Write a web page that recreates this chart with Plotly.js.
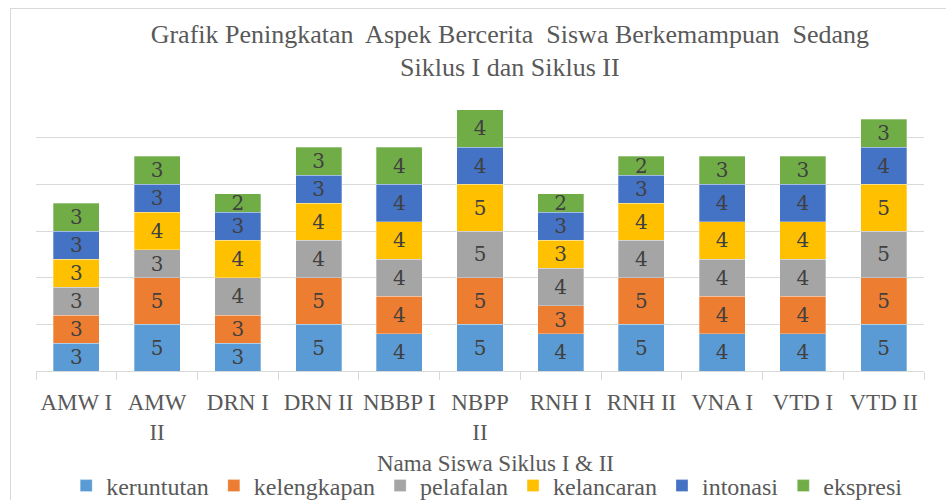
<!DOCTYPE html>
<html>
<head>
<meta charset="utf-8">
<script src="https://cdn.plot.ly/plotly-3.0.1.min.js"></script>
<style>
html,body{margin:0;padding:0;background:#fff;overflow:hidden;}
#frame{position:absolute;left:10px;top:8px;width:1000px;height:600px;border:1px solid #d9d9d9;box-sizing:border-box;}
#chart{position:absolute;left:0;top:0;width:946px;height:500px;}
</style>
</head>
<body>
<div id="frame"></div>
<div id="chart"></div>
<script>
const categories = ["AMW I","AMW<br>II","DRN I","DRN II","NBBP I","NBPP<br>II","RNH I","RNH II","VNA I","VTD I","VTD II"];
const seriesNames = ["keruntutan","kelengkapan","pelafalan","kelancaran","intonasi","ekspresi"];
const keruntutan  = [3,5,3,5,4,5,4,5,4,4,5];
const kelengkapan = [3,5,3,5,4,5,3,5,4,4,5];
const pelafalan   = [3,3,4,4,4,5,4,4,4,4,5];
const kelancaran  = [3,4,4,4,4,5,3,4,4,4,5];
const intonasi    = [3,3,3,3,4,4,3,3,4,4,4];
const ekspresi    = [3,3,2,3,4,4,2,2,3,3,3];
const seriesValues = [keruntutan,kelengkapan,pelafalan,kelancaran,intonasi,ekspresi];
const colors = ["#5B9BD5","#ED7D31","#A5A5A5","#FFC000","#4472C4","#70AD47"];

const serif = "Liberation Serif, Times New Roman, serif";
const labelFont = {family:"DejaVu Serif", size:20, color:"#404040"};

const traces = seriesNames.map((name,i)=>({
  type:"bar",
  name:name,
  x:categories,
  y:seriesValues[i],
  text:seriesValues[i].map(String),
  textposition:"inside",
  insidetextanchor:"middle",
  textangle:0,
  textfont:labelFont,
  insidetextfont:labelFont,
  constraintext:"none",
  marker:{color:colors[i],line:{color:"rgba(255,255,255,0.6)",width:0.5}},
  hoverinfo:"x+y+name"
}));

const layout = {
  width:946,height:500,
  font:{family:serif,color:"#595959"},
  paper_bgcolor:"rgba(0,0,0,0)",
  plot_bgcolor:"rgba(0,0,0,0)",
  margin:{l:36,r:22,t:91,b:129},
  barmode:"stack",
  bargap:0.43,
  showlegend:true,
  title:{
    text:"Grafik Peningkatan  Aspek Bercerita  Siswa Berkemampuan  Sedang<br>Siklus I dan Siklus II",
    font:{family:serif,size:26,color:"#595959"},
    x:0.539,xanchor:"center",xref:"container",
    y:0.915,yanchor:"top",yref:"container"
  },
  xaxis:{
    type:"category",
    showline:true,linecolor:"#d9d9d9",linewidth:1,
    ticks:"outside",tickson:"boundaries",ticklen:8,tickcolor:"#d9d9d9",
    tickfont:{family:serif,size:23,color:"#595959"},
    ticklabelstandoff:10,
    tickangle:0,
    showgrid:false,zeroline:false
  },
  yaxis:{
    range:[0,30],dtick:5,
    showticklabels:false,
    showgrid:true,gridcolor:"#d9d9d9",gridwidth:1,
    zeroline:false,showline:false,ticks:""
  },
  legend:{
    orientation:"h",
    xref:"container",yref:"container",
    x:0.515,xanchor:"center",
    y:0.028,yanchor:"middle",
    font:{family:serif,size:24,color:"#595959"},
    itemwidth:30,
    traceorder:"normal",
    itemclick:false,
    bgcolor:"rgba(0,0,0,0)"
  },
  annotations:[{
    text:"Nama Siswa Siklus I & II",
    xref:"paper",yref:"paper",
    x:0.518,xanchor:"center",
    y:-0.33,yanchor:"middle",
    showarrow:false,
    font:{family:serif,size:23,color:"#595959"}
  }]
};

Plotly.newPlot("chart",traces,layout,{displayModeBar:false,staticPlot:true});
</script>
</body>
</html>
